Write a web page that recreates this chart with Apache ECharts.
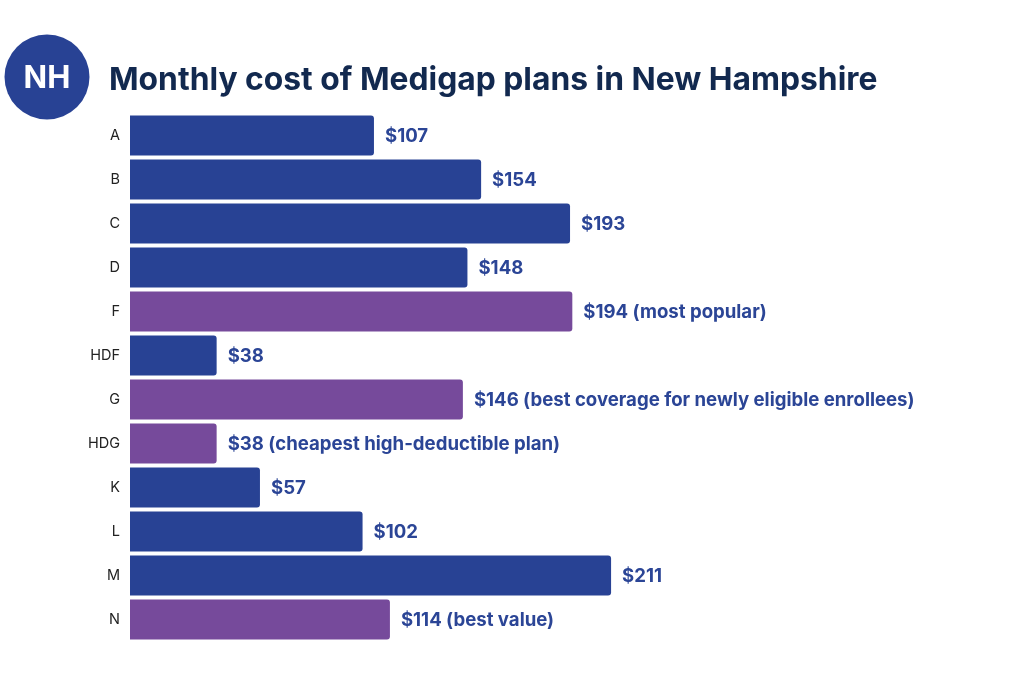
<!DOCTYPE html>
<html><head><meta charset="utf-8">
<style>html,body{margin:0;padding:0;background:#fff}#c{width:1024px;height:676px}</style>
<script src="https://cdn.jsdelivr.net/npm/echarts@6/dist/echarts.min.js"></script>
</head><body><div id="c"></div>
<script>
const categories = ['A','B','C','D','F','HDF','G','HDG','K','L','M','N'];
const values = [107,154,193,148,194,38,146,38,57,102,211,114];
const notes = ['','','','','most popular','','best coverage for newly eligible enrollees','cheapest high-deductible plan','','','','best value'];
const highlighted = ['F','G','HDG','N'];
const BLUE = '#284294', PURPLE = '#764a9b';
const FONT = 'Inter, "Open Sans", sans-serif';
const chart = echarts.init(document.getElementById('c'), null, {renderer:'canvas'});
chart.setOption({
  animation:false,
  backgroundColor:'#fff',
  title:{text:'Monthly cost of Medigap plans in New Hampshire',left:109,top:61,padding:0,
    textStyle:{color:'#12294f',fontFamily:FONT,fontWeight:700,fontSize:31.8,lineHeight:38}},
  grid:{left:130,top:113.5,width:684,height:528,containLabel:false},
  xAxis:{type:'value',min:0,max:300,show:false},
  yAxis:{type:'category',data:categories,inverse:true,
    axisLine:{show:false},axisTick:{show:false},
    axisLabel:{color:'#222',fontFamily:FONT,fontSize:14.5,margin:10,padding:[2,0,0,0]}},
  series:[{type:'bar',barWidth:40,
    data:values.map((v,i)=>({value:v,itemStyle:{color:highlighted.includes(categories[i])?PURPLE:BLUE,borderRadius:[0,3,3,0]}})),
    label:{show:true,position:'right',distance:11,offset:[0,1],color:'#2b4596',fontFamily:FONT,fontWeight:700,fontSize:18.6,
      formatter:p=>'$'+p.value+(notes[p.dataIndex]?' ('+notes[p.dataIndex]+')':'')}}],
  graphic:[{type:'group',children:[
    {type:'circle',shape:{cx:47,cy:77,r:42.5},style:{fill:BLUE}},
    {type:'text',x:47,y:79,style:{text:'NH',fill:'#fff',font:'700 31px '+FONT,textAlign:'center',textVerticalAlign:'middle'}}
  ]}]
});
</script></body></html>
